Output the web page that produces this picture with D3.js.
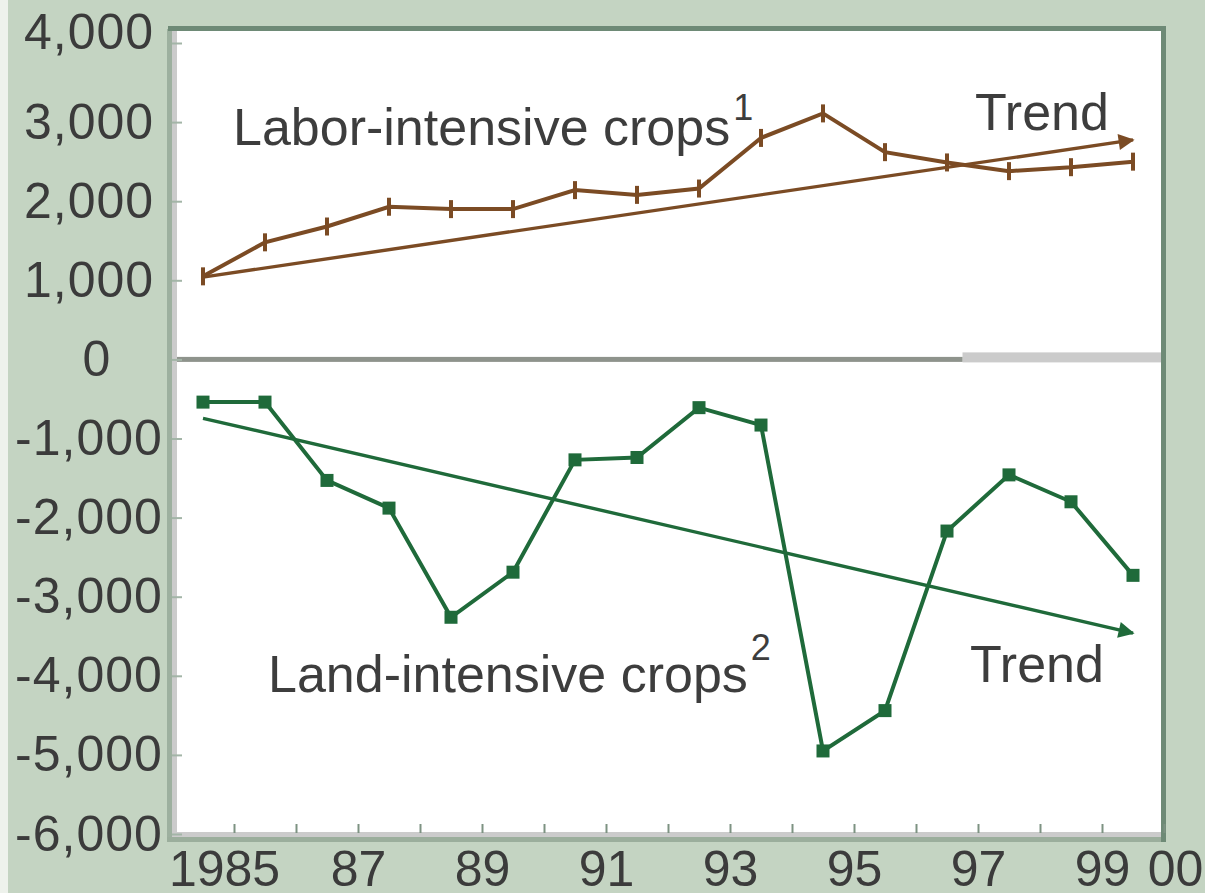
<!DOCTYPE html>
<html>
<head>
<meta charset="utf-8">
<script src="https://cdn.jsdelivr.net/npm/d3@7"></script>
<style>
  html, body { margin: 0; padding: 0; background: #c4d4c2; }
  svg { display: block; }
</style>
</head>
<body>
<div id="chart"></div>
<script>
// values
const years = [1985, 1986, 1987, 1988, 1989, 1990, 1991, 1992, 1993, 1994, 1995, 1996, 1997, 1998, 1999, 2000];
const labor = [1050, 1480, 1680, 1930, 1900, 1900, 2140, 2080, 2160, 2800, 3110, 2620, 2490, 2380, 2430, 2500];
const land = [-540, -540, -1530, -1880, -3260, -2690, -1270, -1240, -610, -830, -4950, -4440, -2170, -1460, -1800, -2730];
const trendYears = [1985, 2000];
const laborTrend = [1040, 2775];
const landTrend = [-745, -3460];
const yTicks = [-6000, -5000, -4000, -3000, -2000, -1000, 0, 1000, 2000, 3000, 4000];
const xTicks = [1985, 1986, 1987, 1988, 1989, 1990, 1991, 1992, 1993, 1994, 1995, 1996, 1997, 1998, 1999, 2000];

const W = 1205, H = 893;
const plotLeft = 172, plotRight = 1164, plotTop = 29, plotBottom = 834;
const brown = '#7b4b24';
const green = '#1f6a3a';
const font = '"Liberation Sans", Arial, sans-serif';

const svg = d3.select('#chart').append('svg')
  .attr('width', W)
  .attr('height', H);

svg.append('rect').attr('width', W).attr('height', H).attr('fill', '#c4d4c2');
svg.append('rect').attr('width', 8).attr('height', H).attr('fill', '#eef2ec');

const x = d3.scaleLinear().domain([1984, 2000]).range([plotLeft, plotRight]);
const y = d3.scaleLinear().domain([-6000, 4000]).range([834, 43]);
// points sit between the year ticks
const px = yr => x(yr - 0.5);

// plot area
svg.append('rect')
  .attr('x', plotLeft).attr('y', plotTop)
  .attr('width', plotRight - plotLeft).attr('height', plotBottom - plotTop)
  .attr('fill', '#fff');

// zero line: dark part then a light grey piece on the right
const zeroSplit = x(1996.75);
svg.append('rect')
  .attr('x', zeroSplit).attr('y', y(0) - 7)
  .attr('width', plotRight - zeroSplit).attr('height', 10)
  .attr('fill', '#cbcbcb');
svg.append('rect')
  .attr('x', plotLeft).attr('y', y(0) - 2.5)
  .attr('width', zeroSplit - plotLeft).attr('height', 5)
  .attr('fill', '#8e938c');

// arrow heads for trends
const defs = svg.append('defs');
[['arrow-brown', brown], ['arrow-green', green]].forEach(function(a) {
  defs.append('marker')
    .attr('id', a[0])
    .attr('viewBox', '0 0 10 10')
    .attr('refX', 9)
    .attr('refY', 5)
    .attr('markerUnits', 'userSpaceOnUse')
    .attr('markerWidth', 18)
    .attr('markerHeight', 16)
    .attr('orient', 'auto')
    .append('path')
    .attr('d', 'M0,0L10,5L0,10z')
    .attr('fill', a[1]);
});

const trendLine = d3.line()
  .x((d, i) => px(trendYears[i]))
  .y(d => y(d));

svg.append('path')
  .datum(laborTrend)
  .attr('d', trendLine)
  .attr('fill', 'none')
  .attr('stroke', brown)
  .attr('stroke-width', 3.4)
  .attr('marker-end', 'url(#arrow-brown)');

svg.append('path')
  .datum(landTrend)
  .attr('d', trendLine)
  .attr('fill', 'none')
  .attr('stroke', green)
  .attr('stroke-width', 3.4)
  .attr('marker-end', 'url(#arrow-green)');

const dataLine = d3.line()
  .x((d, i) => px(years[i]))
  .y(d => y(d));

svg.append('path')
  .datum(labor)
  .attr('d', dataLine)
  .attr('fill', 'none')
  .attr('stroke', brown)
  .attr('stroke-width', 4)
  .attr('stroke-linejoin', 'miter');

svg.append('path')
  .datum(land)
  .attr('d', dataLine)
  .attr('fill', 'none')
  .attr('stroke', green)
  .attr('stroke-width', 4)
  .attr('stroke-linejoin', 'miter');

// markers
svg.append('g').selectAll('rect')
  .data(labor)
  .join('rect')
  .attr('x', (d, i) => px(years[i]) - 2)
  .attr('y', d => y(d) - 9)
  .attr('width', 4)
  .attr('height', 18)
  .attr('fill', brown);

svg.append('g').selectAll('rect')
  .data(land)
  .join('rect')
  .attr('x', (d, i) => px(years[i]) - 6.5)
  .attr('y', d => y(d) - 6.5)
  .attr('width', 13)
  .attr('height', 13)
  .attr('fill', green);

// frame
svg.append('rect').attr('x', 167).attr('y', plotTop).attr('width', 5).attr('height', 813).attr('fill', '#9db09f');
svg.append('rect').attr('x', plotLeft).attr('y', plotTop).attr('width', 5).attr('height', plotBottom - plotTop).attr('fill', '#cbcbcb');
svg.append('rect').attr('x', plotLeft).attr('y', 832).attr('width', plotRight - plotLeft).attr('height', 5).attr('fill', '#cbcbcb');
svg.append('rect').attr('x', 167).attr('y', 837).attr('width', plotRight - 167).attr('height', 5).attr('fill', '#9bae9c');
svg.append('rect').attr('x', 168).attr('y', 26).attr('width', 998).attr('height', 5).attr('fill', '#6e8a76');
svg.append('rect').attr('x', 1161).attr('y', 26).attr('width', 5).attr('height', 816).attr('fill', '#6e8a76');

// axes
const fmt = d => d3.format(',')(d).replace('\u2212', '-');

const yAxis = svg.append('g')
  .attr('transform', 'translate(' + plotLeft + ',0)')
  .call(d3.axisLeft(y).tickValues(yTicks).tickSize(-10).tickPadding(0).tickFormat(fmt));

yAxis.select('.domain').remove();
yAxis.selectAll('line').attr('stroke', '#a3b5a7').attr('stroke-width', 2);
yAxis.selectAll('text')
  .attr('text-anchor', 'middle')
  .attr('x', d => d === 0 ? -75 : -83)
  .attr('dy', d => d === 4000 ? '0.1em' : '0.32em')
  .attr('fill', '#3b3b3b')
  .style('font-family', font)
  .style('font-size', '50px')
  .style('letter-spacing', '1px');

const xAxis = svg.append('g')
  .attr('transform', 'translate(0,' + 833 + ')')
  .call(d3.axisBottom(x).tickValues(xTicks).tickSize(-9).tickPadding(17)
    .tickFormat(d => d === 1985 ? '1985' : (d % 2 === 1 || d === 2000) ? String(d).slice(2) : ''));

xAxis.select('.domain').remove();
xAxis.selectAll('line').attr('stroke', '#7d9282').attr('stroke-width', 2);
xAxis.selectAll('text')
  .attr('dx', d => d === 1985 ? -10 : d === 2000 ? 11 : 0)
  .attr('fill', '#3b3b3b')
  .style('font-family', font)
  .style('font-size', '50px');

// series labels
function label(tx, ty, txt, sup, supDy) {
  const t = svg.append('text')
    .attr('x', tx)
    .attr('y', ty)
    .attr('fill', '#3d3d3d')
    .style('font-family', font)
    .style('font-size', '52px')
    .text(txt);
  if (sup) {
    t.append('tspan')
      .attr('dx', 3)
      .attr('dy', supDy)
      .style('font-size', '36px')
      .text(sup);
  }
}

label(233, 145, 'Labor-intensive crops', '1', -25);
label(975, 130, 'Trend');
label(268, 692, 'Land-intensive crops', '2', -32);
label(970, 682, 'Trend');
</script>
</body>
</html>
